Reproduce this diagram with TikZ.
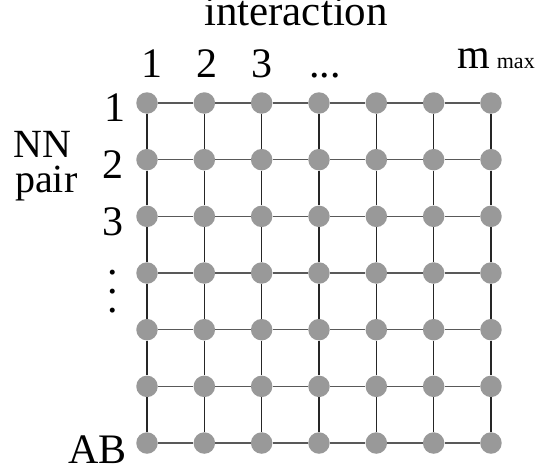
\documentclass[tikz,border=0pt]{standalone}
\usepackage{fontspec}
\setmainfont{Liberation Serif}
\usetikzlibrary{positioning}

\begin{document}
\begin{tikzpicture}[x=1pt, y=-1pt]

\tikzstyle{site}=[circle, fill=black!40, minimum size=21.5pt, inner sep=0pt]
\tikzstyle{rowline}=[line width=1.2pt, draw=black!65]
\tikzstyle{colline}=[line width=1.2pt, draw=black!85]
\tikzstyle{lab}=[font=\fontsize{42}{42}\selectfont, inner sep=0pt]

\useasboundingbox (0,0) rectangle (538,474);

% the grid of sites
\foreach \i in {1,...,7} {
  \foreach \j in {1,...,7} {
    \node[site] (s\i\j) at ({147+57.33*(\j-1)}, {103+56.67*(\i-1)}) {};
  }
}
\foreach \i in {1,...,7} {
  \foreach \j [count=\k from 2] in {1,...,6} {
    \draw[rowline] (s\i\j) -- (s\i\k);
    \draw[colline] (s\j\i) -- (s\k\i);
  }
}

% column labels
\node[lab, font=\fontsize{43}{43}\selectfont, anchor=base] (title) at (296,25) {interaction};
\node[lab, anchor=base] (m1) at (152,77) {1};
\node[lab, anchor=base] (m2) at (207,77) {2};
\node[lab, anchor=base] (m3) at (262,77) {3};
\node[lab, anchor=base] (mdots) at (325,77) {...};
\node[lab, anchor=base west] (mmax) at (457,68)
  {m\,{\fontsize{22}{22}\selectfont max}};

% row labels
\node[lab, anchor=base east] (n1) at (126,121) {1};
\node[lab, anchor=base east] (n2) at (124,178) {2};
\node[lab, anchor=base east] (n3) at (124,235) {3};
\node[lab, font=\fontsize{42}{19}\selectfont, align=center] (ndots) at (113,292) {.\\.\\.};
\node[lab, anchor=base east] (nab) at (127,463) {AB};
\node[lab, font=\fontsize{40}{40}\selectfont, anchor=base west] (nn) at (13,157) {NN};
\node[lab, font=\fontsize{40}{40}\selectfont, anchor=base west] (pair) at (15,192) {pair};

\end{tikzpicture}
\end{document}
